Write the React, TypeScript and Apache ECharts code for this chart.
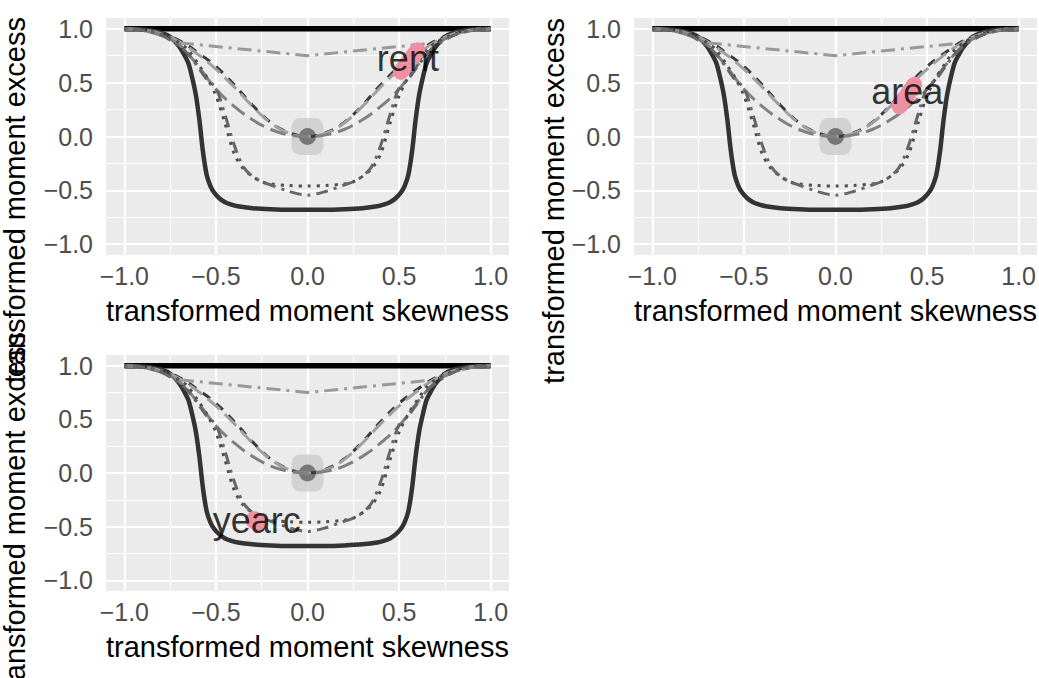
import React, { useEffect, useRef } from "react";
import * as echarts from "echarts";

// ---------- data ----------
const tickValues = [-1, -0.5, 0, 0.5, 1];
const minorValues = [-0.75, -0.25, 0.25, 0.75];

// upper limit (black)
const upperX = [-1, 1];
const upperY = [1, 1];

// lower boundary (thick dark)
const boundX = [-1, -0.95, -0.9, -0.85, -0.8, -0.75, -0.7, -0.67, -0.65, -0.63, -0.61, -0.59, -0.57, -0.55, -0.53, -0.51, -0.48, -0.45, -0.42, -0.38, -0.3, -0.2, -0.1, 0, 0.1, 0.2, 0.3, 0.38, 0.42, 0.45, 0.48, 0.51, 0.53, 0.55, 0.57, 0.59, 0.61, 0.63, 0.65, 0.67, 0.7, 0.75, 0.8, 0.85, 0.9, 0.95, 1];
const boundY = [1, 0.998, 0.993, 0.983, 0.965, 0.925, 0.835, 0.75, 0.68, 0.55, 0.39, 0.15, -0.15, -0.36, -0.46, -0.52, -0.575, -0.61, -0.63, -0.648, -0.665, -0.675, -0.68, -0.68, -0.68, -0.675, -0.665, -0.648, -0.63, -0.61, -0.575, -0.52, -0.46, -0.36, -0.15, 0.15, 0.39, 0.55, 0.68, 0.75, 0.835, 0.925, 0.965, 0.983, 0.993, 0.998, 1];

// light grey dot-dash curve
const ddLightX = [-1, -0.9, -0.8, -0.75, -0.7, 0, 0.7, 0.75, 0.8, 0.9, 1];
const ddLightY = [1, 0.985, 0.95, 0.915, 0.87, 0.75, 0.87, 0.915, 0.95, 0.985, 1];

// dashed curves through (0,0)
const stepX = [-1, -0.9, -0.8, -0.7, -0.6, -0.5, -0.4, -0.3, -0.2, -0.1, 0, 0.1, 0.2, 0.3, 0.4, 0.5, 0.6, 0.7, 0.8, 0.9, 1];
const dashDarkY = [1, 0.99, 0.96, 0.89, 0.78, 0.65, 0.48, 0.29, 0.13, 0.035, 0, 0.035, 0.13, 0.29, 0.48, 0.65, 0.78, 0.89, 0.96, 0.99, 1];
const longLightY = [1, 0.99, 0.955, 0.88, 0.765, 0.625, 0.46, 0.28, 0.125, 0.03, 0, 0.03, 0.125, 0.28, 0.46, 0.625, 0.765, 0.88, 0.955, 0.99, 1];
const longMidY = [1, 0.985, 0.94, 0.85, 0.66, 0.44, 0.28, 0.155, 0.065, 0.015, 0, 0.015, 0.065, 0.155, 0.28, 0.44, 0.66, 0.85, 0.94, 0.985, 1];

// dotted and dark dot-dash curves
const deepX = [-1, -0.9, -0.8, -0.7, -0.65, -0.6, -0.55, -0.5, -0.45, -0.4, -0.35, -0.3, -0.25, -0.2, -0.1, 0, 0.1, 0.2, 0.25, 0.3, 0.35, 0.4, 0.45, 0.5, 0.55, 0.6, 0.65, 0.7, 0.8, 0.9, 1];
const dottedY = [1, 0.99, 0.95, 0.87, 0.8, 0.68, 0.55, 0.38, 0.12, -0.16, -0.3, -0.37, -0.42, -0.44, -0.455, -0.46, -0.455, -0.44, -0.42, -0.37, -0.3, -0.16, 0.12, 0.38, 0.55, 0.68, 0.8, 0.87, 0.95, 0.99, 1];
const ddDarkY = [1, 0.985, 0.94, 0.84, 0.76, 0.65, 0.53, 0.45, 0.2, -0.08, -0.28, -0.37, -0.42, -0.45, -0.51, -0.545, -0.51, -0.45, -0.42, -0.37, -0.28, -0.08, 0.2, 0.45, 0.53, 0.65, 0.76, 0.84, 0.94, 0.985, 1];

// centre point
const centre = [0, 0];

// variables (blob ends and label positions)
const varNames = ["rent", "area", "yearc"];
const blobStart = [[0.51, 0.6], [0.35, 0.28], [-0.29, -0.44]];
const blobEnd = [[0.6, 0.8], [0.43, 0.48], [-0.27, -0.46]];
const labelPos = [[0.548, 0.72], [0.392, 0.42], [-0.277, -0.446]];

// ---------- layout ----------
const FONT = '"Liberation Sans", Arial, Helvetica, sans-serif';
const grids = [
  { left: 106, top: 18, width: 403, height: 237 },
  { left: 634, top: 18, width: 403, height: 237 },
  { left: 106, top: 355, width: 403, height: 236 },
];
const yTitlePos = [[15, 200], [554, 201], [15, 515]];
const xTitlePos = [[307.5, 311], [835.5, 311], [307.5, 647]];

const fmt = (v: number) => (v < 0 ? "\u2212" : "") + Math.abs(v).toFixed(1);
const pairs = (xs: number[], ys: number[]) => xs.map((x, k) => [x, ys[k]]);

function buildOption() {
  const xAxis: any[] = [];
  const yAxis: any[] = [];
  const series: any[] = [];
  const graphic: any[] = [];

  grids.forEach((g, i) => {
    const axisCommon = {
      type: "value",
      gridIndex: i,
      min: -1.1,
      max: 1.1,
      axisLine: { show: false },
      splitLine: { show: false },
      axisTick: { show: true, customValues: tickValues, length: 7, lineStyle: { color: "#333333", width: 2 } },
    };
    xAxis.push({
      ...axisCommon,
      axisLabel: { customValues: tickValues, formatter: fmt, color: "#4D4D4D", fontSize: 25, fontFamily: FONT, margin: 8 },
    });
    yAxis.push({
      ...axisCommon,
      axisLabel: { customValues: tickValues, formatter: fmt, color: "#4D4D4D", fontSize: 25, fontFamily: FONT, margin: 13 },
    });

    // gridlines
    series.push({
      type: "line",
      xAxisIndex: i,
      yAxisIndex: i,
      data: [[-1, 1]],
      showSymbol: false,
      symbol: "none",
      lineStyle: { width: 0, opacity: 0 },
      silent: true,
      z: 1,
      markLine: {
        silent: true,
        z: 1,
        symbol: ["none", "none"],
        label: { show: false },
        animation: false,
        lineStyle: { color: "#FFFFFF", type: "solid" },
        data: [
          ...minorValues.map((v) => ({ xAxis: v, lineStyle: { width: 1.1, color: "#FFFFFF", type: "solid" } })),
          ...minorValues.map((v) => ({ yAxis: v, lineStyle: { width: 1.1, color: "#FFFFFF", type: "solid" } })),
          ...tickValues.map((v) => ({ xAxis: v, lineStyle: { width: 2.2, color: "#FFFFFF", type: "solid" } })),
          ...tickValues.map((v) => ({ yAxis: v, lineStyle: { width: 2.2, color: "#FFFFFF", type: "solid" } })),
        ],
      },
    });

    // halo and centre point
    series.push({
      type: "scatter", xAxisIndex: i, yAxisIndex: i, data: [centre], silent: true, z: 2,
      symbol: "roundRect", symbolSize: [32, 37], itemStyle: { color: "#CCCCCC" },
    });
    series.push({
      type: "scatter", xAxisIndex: i, yAxisIndex: i, data: [centre], silent: true, z: 2,
      symbol: "circle", symbolSize: 17, itemStyle: { color: "#606060" },
    });

    const line = (xs: number[], ys: number[], color: string, width: number, type: any, smooth: any) => ({
      type: "line",
      xAxisIndex: i,
      yAxisIndex: i,
      data: pairs(xs, ys),
      showSymbol: false,
      symbol: "none",
      smooth,
      silent: true,
      z: 3,
      lineStyle: { color, width, type },
    });

    series.push(line(upperX, upperY, "#000000", 5.5, "solid", false));
    series.push(line(boundX, boundY, "#333333", 4.5, "solid", 0.3));
    series.push(line(ddLightX, ddLightY, "#999999", 3, [14, 6, 3, 6], false));
    series.push(line(stepX, dashDarkY, "#3A3A3A", 3, [9, 8], 0.4));
    series.push(line(stepX, longLightY, "#A0A0A0", 3, [16, 7], 0.4));
    series.push(line(stepX, longMidY, "#808080", 3, [16, 7], 0.4));
    series.push(line(deepX, dottedY, "#4D4D4D", 3, [3, 6], 0.3));
    series.push(line(deepX, ddDarkY, "#666666", 3, [3, 6, 12, 6], 0.3));

    // blob
    series.push({
      type: "line",
      xAxisIndex: i,
      yAxisIndex: i,
      data: [blobStart[i], blobEnd[i]],
      showSymbol: false,
      symbol: "none",
      silent: true,
      z: 4,
      lineStyle: { color: "#EE8FA2", width: i === 2 ? 18 : 16, cap: "round" },
    });
    // label
    series.push({
      type: "scatter",
      xAxisIndex: i,
      yAxisIndex: i,
      data: [labelPos[i]],
      symbolSize: 1,
      silent: true,
      z: 20,
      itemStyle: { color: "rgba(0,0,0,0)" },
      label: {
        show: true, position: "inside", formatter: varNames[i], fontSize: 36, color: "#000000",
        fontFamily: FONT, textBorderWidth: 0,
      },
    });

    graphic.push({
      type: "text",
      x: xTitlePos[i][0],
      y: xTitlePos[i][1],
      silent: true,
      z: 30,
      style: { text: "transformed moment skewness", fontSize: 29, fontFamily: FONT, fill: "#000000", align: "center", verticalAlign: "middle" },
    });
    graphic.push({
      type: "text",
      x: yTitlePos[i][0],
      y: yTitlePos[i][1],
      rotation: Math.PI / 2,
      silent: true,
      z: 30,
      style: { text: "transformed moment excess", fontSize: 29, fontFamily: FONT, fill: "#000000", align: "center", verticalAlign: "middle" },
    });
  });

  return {
    animation: false,
    backgroundColor: "#FFFFFF",
    grid: grids.map((g) => ({ ...g, show: true, backgroundColor: "#EBEBEB", borderWidth: 0, containLabel: false })),
    xAxis,
    yAxis,
    series,
    graphic,
  };
}

export default function App() {
  const ref = useRef<HTMLDivElement>(null);
  useEffect(() => {
    if (!ref.current) return;
    const chart = echarts.init(ref.current, undefined, { renderer: "svg" });
    chart.setOption(buildOption() as any);
    return () => chart.dispose();
  }, []);
  return (
    <div
      ref={ref}
      style={{ position: "fixed", left: 0, top: 0, width: 1039, height: 678, background: "#FFFFFF" }}
    />
  );
}
